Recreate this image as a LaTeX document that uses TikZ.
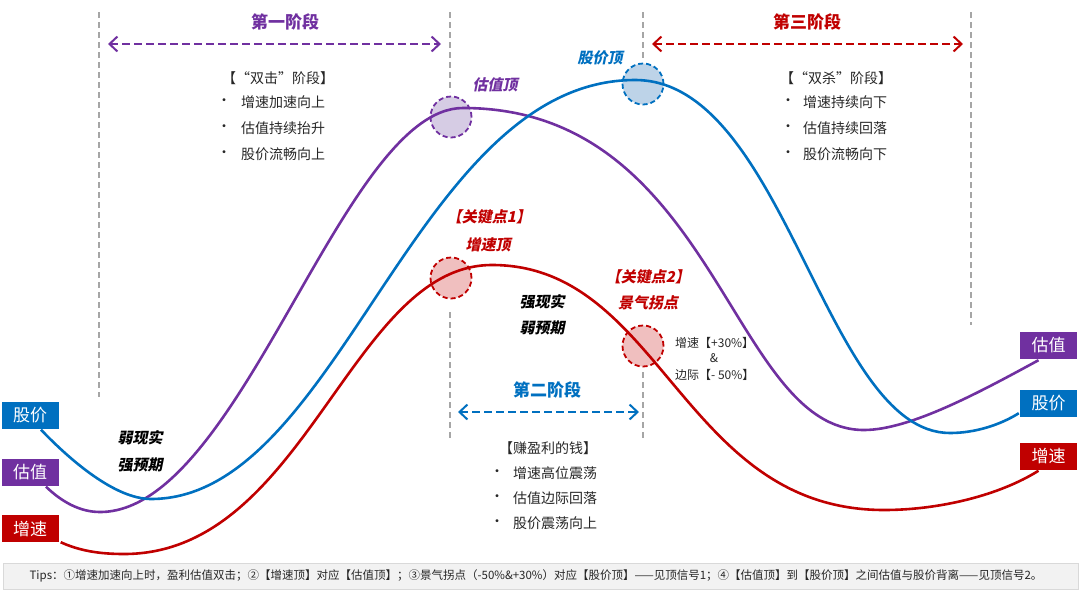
\documentclass[tikz,border=0pt]{standalone}
\usepackage{fontspec}
\setmainfont{Noto Sans CJK SC}
\newfontfamily\slantfont{Noto Sans CJK SC}[FakeSlant=0.2]
\usetikzlibrary{arrows.meta,calc}
\definecolor{cpur}{HTML}{7030A0}
\definecolor{cblu}{HTML}{0070C0}
\definecolor{cred}{HTML}{C00000}
\definecolor{cgry}{HTML}{A6A6A6}
\definecolor{fpur}{HTML}{D6CCE4}
\definecolor{fblu}{HTML}{BDD3E8}
\definecolor{fred}{HTML}{F0BFBF}
\begin{document}
\begin{tikzpicture}[x=1pt,y=-1pt,
  vline/.style={cgry, line width=2.2pt, dash pattern=on 6pt off 4pt},
  curve/.style={line width=2.6pt},
  lab/.style={rectangle, minimum width=57pt, minimum height=27pt, text=white, inner sep=0pt, font=\fontsize{17}{17}\selectfont},
  hot/.style={circle, minimum size=41pt, line width=1.8pt, dash pattern=on 5pt off 3pt, inner sep=0pt},
  stagearrow/.style={line width=2pt, dash pattern=on 8pt off 4pt, {Straight Barb[length=8pt,width=15pt]}-{Straight Barb[length=8pt,width=15pt]}},
  stitle/.style={font=\fontsize{17}{17}\selectfont\bfseries},
  body/.style={font=\fontsize{14}{14}\selectfont, text=black!85, anchor=west, inner sep=0pt},
  small/.style={font=\fontsize{12}{12}\selectfont, text=black!85, inner sep=0pt},
  keylab/.style={font=\slantfont\fontsize{15}{15}\selectfont\bfseries, inner sep=0pt},
  bul/.style={font=\fontsize{14}{14}\selectfont, text=black!85, inner sep=0pt}
]
\useasboundingbox (0,0) rectangle (1080,590);

% vertical dashed guides
\coordinate (g1a) at (99,12);  \coordinate (g1b) at (99,397);
\coordinate (g2a) at (450,12); \coordinate (g2b) at (450,92);
\coordinate (g2c) at (450,312); \coordinate (g2d) at (450,440);
\coordinate (g3a) at (643,12); \coordinate (g3b) at (643,58);
\coordinate (g3c) at (643,372); \coordinate (g3d) at (643,438);
\coordinate (g4a) at (971,12); \coordinate (g4b) at (971,325);
\draw[vline] (g1a) -- (g1b);
\draw[vline] (g2a) -- (g2b);
\draw[vline] (g2c) -- (g2d);
\draw[vline] (g3a) -- (g3b);
\draw[vline] (g3c) -- (g3d);
\draw[vline] (g4a) -- (g4b);

% stage arrows and titles
\coordinate (s1a) at (108,44); \coordinate (s1b) at (441,44);
\coordinate (s3a) at (652,44); \coordinate (s3b) at (963,44);
\coordinate (s2a) at (458,412); \coordinate (s2b) at (639,412);
\draw[stagearrow, cpur] (s1a) -- (s1b);
\draw[stagearrow, cred] (s3a) -- (s3b);
\draw[stagearrow, cblu] (s2a) -- (s2b);
\node[stitle, text=cpur] (t1) at (285,22) {第一阶段};
\node[stitle, text=cred] (t3) at (807,22) {第三阶段};
\node[stitle, text=cblu] (t2) at (547,390) {第二阶段};

% stage texts
\node[body] (h1) at (222,78) {【“双击”阶段】};
\node[bul] (b11) at (224,102) {•};
\node[body] (l11) at (241,102) {增速加速向上};
\node[bul] (b12) at (224,128) {•};
\node[body] (l12) at (241,128) {估值持续抬升};
\node[bul] (b13) at (224,154) {•};
\node[body] (l13) at (241,154) {股价流畅向上};

\node[body] (h3) at (780,78) {【“双杀”阶段】};
\node[bul] (b31) at (788,102) {•};
\node[body] (l31) at (803,102) {增速持续向下};
\node[bul] (b32) at (788,128) {•};
\node[body] (l32) at (803,128) {估值持续回落};
\node[bul] (b33) at (788,154) {•};
\node[body] (l33) at (803,154) {股价流畅向下};

\node[body] (h2) at (499,448) {【赚盈利的钱】};
\node[bul] (b21) at (497,473) {•};
\node[body] (l21) at (513,473) {增速高位震荡};
\node[bul] (b22) at (497,498) {•};
\node[body] (l22) at (513,498) {估值边际回落};
\node[bul] (b23) at (497,523) {•};
\node[body] (l23) at (513,523) {股价震荡向上};

% hot spots
\node[hot, draw=cpur, fill=fpur] (vtop) at (451,117) {};
\node[hot, draw=cblu, fill=fblu] (ptop) at (643,84) {};
\node[hot, draw=cred, fill=fred] (k1) at (451,278) {};
\node[hot, draw=cred, fill=fred] (k2) at (643,346) {};

% series labels
\node[lab, fill=cblu] (lp) at (30,415) {股价};
\node[lab, fill=cpur] (lv) at (30,472) {估值};
\node[lab, fill=cred] (lg) at (30,528.5) {增速};
\node[lab, fill=cpur] (rv) at (1048.5,345.5) {估值};
\node[lab, fill=cblu] (rp) at (1048.5,403.5) {股价};
\node[lab, fill=cred] (rg) at (1048.5,456) {增速};

\coordinate (bs) at ($(lp.south)+(11,1)$);
\coordinate (be) at ($(rp.south west)+(-1,-4)$);
\coordinate (vs) at ($(lv.south)+(16,1)$);
\coordinate (ve) at ($(rv.south)+(-10,1)$);
\coordinate (gs) at ($(lg.south east)+(2,0)$);
\coordinate (ge) at ($(rg.south)+(-10,1)$);

% curves
\draw[curve, cpur] (vs) .. controls (62,502) and (80,512) .. (100,512)
  .. controls (241,512) and (342,108) .. (463,108)
  .. controls (716,108) and (730,430) .. (864,430)
  .. controls (910,430) and (980,392) .. (ve);
\draw[curve, cblu] (bs) .. controls (70,460) and (115,499) .. (151,499)
  .. controls (339.5,499) and (414.5,80) .. (635,80)
  .. controls (785.5,80) and (824.5,433) .. (950,433)
  .. controls (975,433) and (1000,425) .. (be);
\draw[curve, cred] (gs) .. controls (80,551) and (100,554) .. (124,554)
  .. controls (305.5,554) and (350.5,265) .. (492,265)
  .. controls (662,265) and (682,510) .. (884,510)
  .. controls (940,510) and (1000,495) .. (ge);

% key labels
\node[keylab, text=cpur] (vtl) at (495,85) {估值顶};
\node[keylab, text=cblu] (ptl) at (600,58) {股价顶};
\node[keylab, text=cred] (k1a) at (489,217) {【关键点1】};
\node[keylab, text=cred] (k1b) at (488,245) {增速顶};
\node[keylab, text=cred] (k2a) at (648,277) {【关键点2】};
\node[keylab, text=cred] (k2b) at (648,303) {景气拐点};
\node[keylab, text=black] (m1) at (542,302) {强现实};
\node[keylab, text=black] (m2) at (542,328) {弱预期};
\node[keylab, text=black] (w1) at (140,438) {弱现实};
\node[keylab, text=black] (w2) at (140,465) {强预期};
\node[small, anchor=west] (d1) at (675,343) {增速【+30\%】};
\node[small] (d2) at (714,358) {\&};
\node[small, anchor=west] (d3) at (675,375) {边际【- 50\%】};

% tips bar
\node[draw=black!15, fill=black!5, minimum width=1075pt, minimum height=26pt, inner sep=0pt] (tips) at (540.5,576) {};
\node[font=\fontsize{11.5}{11.5}\selectfont, text=black!85, inner sep=0pt] (tipt) at (536,576) {Tips：①增速加速向上时，盈利估值双击；②【增速顶】对应【估值顶】；③景气拐点（-50\%\&+30\%）对应【股价顶】——见顶信号1；④【估值顶】到【股价顶】之间估值与股价背离——见顶信号2。};
\end{tikzpicture}
\end{document}
